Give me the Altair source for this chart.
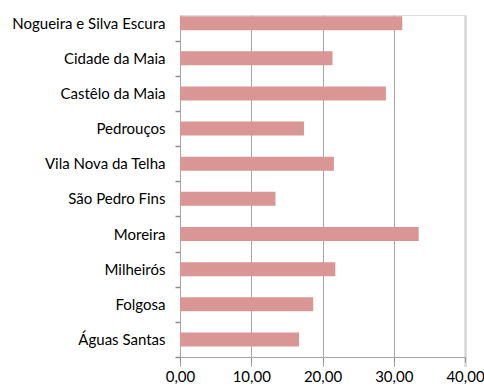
import altair as alt
import pandas as pd

# Parishes, listed top to bottom as drawn
parishes = [
    "Nogueira e Silva Escura",
    "Cidade da Maia",
    "Castêlo da Maia",
    "Pedrouços",
    "Vila Nova da Telha",
    "São Pedro Fins",
    "Moreira",
    "Milheirós",
    "Folgosa",
    "Águas Santas",
]
values = [31.2, 21.4, 28.9, 17.4, 21.6, 13.4, 33.5, 21.8, 18.7, 16.7]

x_ticks = [0, 10, 20, 30, 40]

df = pd.DataFrame({"parish": parishes, "value": values})

FONT = "Lato"
GRID = "#a6a6a6"

bars = (
    alt.Chart(df)
    .mark_bar(color="#D99694", size=14)
    .encode(
        x=alt.X(
            "value:Q",
            scale=alt.Scale(domain=[0, 40], nice=False, zero=True),
            axis=alt.Axis(
                values=x_ticks,
                title=None,
                grid=True,
                gridColor={"condition": {"test": "datum.value === 40", "value": "#d6d6d6"}, "value": GRID},
                gridWidth={"condition": {"test": "datum.value === 40", "value": 2.5}, "value": 1},
                domainColor=GRID,
                tickColor="#8c8c8c",
                tickSize=5,
                labelExpr="replace(format(datum.value, '.2f'), '.', ',')",
                labelFont=FONT,
                labelFontSize=15,
                labelColor="#000000",
                labelPadding=7,
                labelFlush=False,
            ),
        ),
        y=alt.Y(
            "parish:N",
            sort=parishes,
            scale=alt.Scale(range=[-9.4, 342], paddingInner=0, paddingOuter=0),
            axis=alt.Axis(
                title=None,
                domain=False,
                grid=False,
                tickBand="extent",
                tickColor="#8c8c8c",
                tickWidth=1.5,
                tickSize=5,
                tickOpacity={"condition": {"test": "datum.index < 0", "value": 0}, "value": 1},
                labelFont=FONT,
                labelFontSize=15,
                labelColor="#000000",
                labelPadding=10,
                labelLimit=0,
            ),
        ),
    )
    .properties(
        width=285,
        height=342,
        autosize=alt.AutoSizeParams(type="none"),
        padding={"left": 180, "top": 15, "right": 19, "bottom": 32},
    )
    .configure_view(stroke=None)
    .configure(background="white")
)

chart = bars
chart.save("out.html", embed_options={"renderer": "svg", "actions": False})
